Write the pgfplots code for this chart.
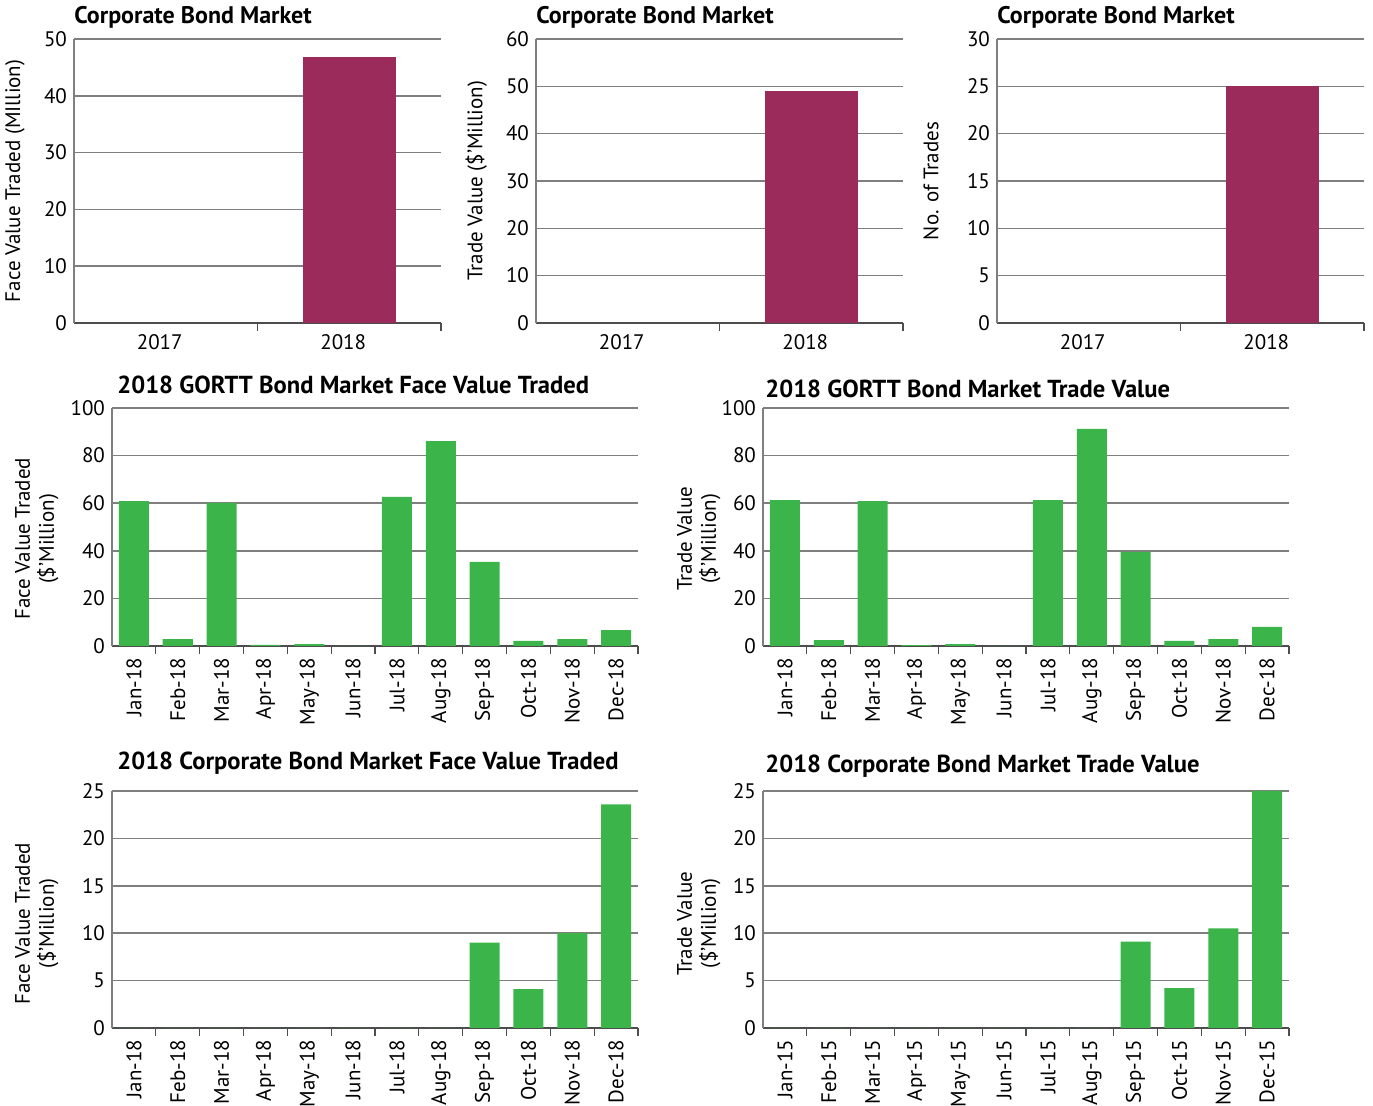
\documentclass[border=0pt]{standalone}
\usepackage{fontspec}
\setmainfont{PT Sans}
\usepackage{pgfplots}
\pgfplotsset{compat=1.18}
\definecolor{barpurple}{HTML}{9A2B5B}
\definecolor{bargreen}{HTML}{3BB54A}
\definecolor{gridgray}{HTML}{7F7F7F}
\definecolor{axisdark}{HTML}{4D4D4D}
\pgfplotsset{
  every axis title shift=0pt,
  mystyle/.style={
    scale only axis,
    anchor=south west,
    axis x line*=bottom,
    axis y line*=left,
    x axis line style={draw=axisdark, line width=1pt, -},
    y axis line style={draw=gridgray, line width=0.7pt, -},
    ymajorgrids,
    grid style={draw=gridgray, line width=0.75pt},
    ymin=0,
    ytick style={draw=none},
    major x tick style={draw=none},
    minor x tick style={draw=axisdark, line width=0.6pt},
    minor tick length=4pt,
    tick align=inside,
    ticklabel style={font=\fontsize{10.5}{12}\selectfont},
    /pgf/number format/assume math mode=true,
    label style={font=\fontsize{10.5}{12}\selectfont},
    title style={font=\bfseries\fontsize{12}{14}\selectfont, anchor=west, inner sep=0pt, at={(rel axis cs:0,1)}},
    ybar, bar shift=0pt,
    clip=false,
  },
  toprow/.style={
    mystyle,
    width=183.5pt, height=142pt,
    xmin=-0.5, xmax=1.5,
    xtick={0,1}, xticklabels={2017,2018},
    minor xtick={0.5,1.5},
    bar width=46.5pt,
    xticklabel style={yshift=2pt, xshift=-3pt},
    title style={yshift=11pt},
  },
  monthrow/.style={
    mystyle,
    width=263pt, height=119pt,
    xmin=-0.5, xmax=11.5,
    xtick={0,...,11},
    minor xtick={0.5,1.5,...,11.5},
    xticklabel style={rotate=90, anchor=east, inner sep=1.5pt},
    bar width=15pt,
  },
}
\begin{document}
\begin{tikzpicture}
\useasboundingbox (0,0) rectangle (686.5pt,553pt);
% ---- top row ----
\begin{axis}[toprow, at={(37pt,391.5pt)}, ymax=50, ytick={0,10,...,50},
  title={Corporate Bond Market},
  ylabel={Face Value Traded (MIllion)},
  ylabel style={at={(axis description cs:-0.161,0.5)}, anchor=center}]
\addplot[fill=barpurple, draw=none] coordinates {(1,46.8)};
\end{axis}
\begin{axis}[toprow, at={(268pt,391.5pt)}, ymax=60, ytick={0,10,...,60},
  title={Corporate Bond Market},
  ylabel={Trade Value (\$’Million)},
  ylabel style={at={(axis description cs:-0.163,0.5)}, anchor=center}]
\addplot[fill=barpurple, draw=none] coordinates {(1,49)};
\end{axis}
\begin{axis}[toprow, at={(498.5pt,391.5pt)}, ymax=30, ytick={0,5,...,30},
  title={Corporate Bond Market},
  ylabel={No. of Trades},
  ylabel style={at={(axis description cs:-0.18,0.5)}, anchor=center}]
\addplot[fill=barpurple, draw=none] coordinates {(1,25)};
\end{axis}
% ---- middle row ----
\begin{axis}[monthrow, at={(56pt,230pt)}, ymax=100, ytick={0,20,...,100},
  xticklabels={Jan-18,Feb-18,Mar-18,Apr-18,May-18,Jun-18,Jul-18,Aug-18,Sep-18,Oct-18,Nov-18,Dec-18},
  title={2018 GORTT Bond Market Face Value Traded},
  title style={yshift=11.5pt, xshift=2.5pt, font=\bfseries\fontsize{12.3}{14}\selectfont},
  ylabel={Face Value Traded\\(\$’Million)},
  ylabel style={at={(axis description cs:-0.143,0.45)}, anchor=center, align=center}]
\addplot[fill=bargreen, draw=none] coordinates {
(0,60.9) (1,2.9) (2,60.1) (3,0.5) (4,0.8) (5,0) (6,62.6) (7,86.1) (8,35.3) (9,2.1) (10,2.9) (11,6.7)};
\end{axis}
\begin{axis}[monthrow, at={(381.5pt,230pt)}, ymax=100, ytick={0,20,...,100},
  xticklabels={Jan-18,Feb-18,Mar-18,Apr-18,May-18,Jun-18,Jul-18,Aug-18,Sep-18,Oct-18,Nov-18,Dec-18},
  title={2018 GORTT Bond Market Trade Value},
  title style={yshift=9.5pt, xshift=1pt, font=\bfseries\fontsize{12.3}{14}\selectfont},
  ylabel={Trade Value\\(\$’Million)},
  ylabel style={at={(axis description cs:-0.122,0.45)}, anchor=center, align=center}]
\addplot[fill=bargreen, draw=none] coordinates {
(0,61.3) (1,2.5) (2,60.9) (3,0.4) (4,0.8) (5,0) (6,61.3) (7,91.2) (8,39.5) (9,2.1) (10,2.9) (11,8.0)};
\end{axis}
% ---- bottom row ----
\begin{axis}[monthrow, height=118.5pt, at={(56pt,39pt)}, ymax=25, ytick={0,5,...,25},
  xticklabels={Jan-18,Feb-18,Mar-18,Apr-18,May-18,Jun-18,Jul-18,Aug-18,Sep-18,Oct-18,Nov-18,Dec-18},
  title={2018 Corporate Bond Market Face Value Traded},
  title style={yshift=14pt, xshift=2.5pt, font=\bfseries\fontsize{12.3}{14}\selectfont},
  ylabel={Face Value Traded\\(\$’Million)},
  ylabel style={at={(axis description cs:-0.143,0.44)}, anchor=center, align=center}]
\addplot[fill=bargreen, draw=none] coordinates {
(0,0) (1,0) (2,0) (3,0) (4,0) (5,0) (6,0) (7,0) (8,9.0) (9,4.1) (10,10.0) (11,23.6)};
\end{axis}
\begin{axis}[monthrow, height=118.5pt, at={(381.5pt,39pt)}, ymax=25, ytick={0,5,...,25},
  xticklabels={Jan-15,Feb-15,Mar-15,Apr-15,May-15,Jun-15,Jul-15,Aug-15,Sep-15,Oct-15,Nov-15,Dec-15},
  title={2018 Corporate Bond Market Trade Value},
  title style={yshift=12.5pt, xshift=1pt, font=\bfseries\fontsize{12.3}{14}\selectfont},
  ylabel={Trade Value\\(\$’Million)},
  ylabel style={at={(axis description cs:-0.122,0.44)}, anchor=center, align=center}]
\addplot[fill=bargreen, draw=none] coordinates {
(0,0) (1,0) (2,0) (3,0) (4,0) (5,0) (6,0) (7,0) (8,9.1) (9,4.2) (10,10.5) (11,25.0)};
\end{axis}
\end{tikzpicture}
\end{document}
